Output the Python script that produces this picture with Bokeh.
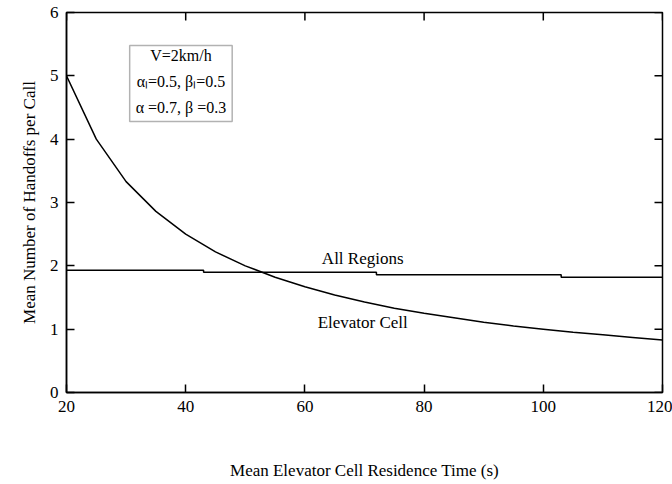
from bokeh.plotting import figure
from bokeh.models import Range1d, FixedTicker, BoxAnnotation, Label
from bokeh.core.properties import value
from bokeh.embed import file_html
from bokeh.resources import INLINE

# Data
residence_time = [20, 25, 30, 35, 40, 45, 50, 55, 60, 65, 70, 75, 80, 85, 90, 95, 100, 105, 110, 115, 120]
elevator_cell = [5.0, 4.0, 3.33, 2.86, 2.5, 2.22, 2.0, 1.82, 1.67, 1.54, 1.43, 1.33, 1.25, 1.18, 1.11, 1.05, 1.0, 0.95, 0.91, 0.87, 0.83]
all_regions_x = [20, 43, 43, 72, 72, 103, 103, 120]
all_regions = [1.93, 1.93, 1.90, 1.90, 1.86, 1.86, 1.82, 1.82]
x_ticks = [20, 40, 60, 80, 100, 120]
y_ticks = [0, 1, 2, 3, 4, 5, 6]

FONT = "Liberation Serif"
X0, X1, Y0, Y1 = 20, 120, 0, 6

p = figure(width=672, height=484, output_backend="svg", toolbar_location=None,
           x_range=Range1d(X0, X1), y_range=Range1d(Y0, Y1),
           min_border_left=66, min_border_right=10, min_border_top=12, min_border_bottom=92)
p.xgrid.visible = False
p.ygrid.visible = False
p.outline_line_color = "black"
p.outline_line_width = 1.5

p.line(residence_time, elevator_cell, line_color="black", line_width=1.5)
p.line(all_regions_x, all_regions, line_color="black", line_width=1.5)

def style_axis(ax, ticks):
    ax.ticker = FixedTicker(ticks=ticks)
    ax.axis_line_color = "black"
    ax.axis_line_width = 1.5
    ax.major_tick_in = 8
    ax.major_tick_out = 0
    ax.major_tick_line_width = 1.5
    ax.minor_tick_line_color = None
    ax.major_label_text_font = FONT
    ax.major_label_text_font_size = "17px"
    ax.major_label_text_color = "black"
    ax.axis_label_text_font = FONT
    ax.axis_label_text_font_style = "normal"
    ax.axis_label_text_font_size = "17px"
    ax.axis_label_text_color = "black"

style_axis(p.xaxis[0], x_ticks)
style_axis(p.yaxis[0], y_ticks)
p.xaxis[0].axis_label = "Mean Elevator Cell Residence Time (s)"
p.xaxis[0].major_label_standoff = 8
p.xaxis[0].axis_label_standoff = 46
p.yaxis[0].axis_label = "Mean Number of Handoffs per Call"
p.yaxis[0].major_label_standoff = 8
p.yaxis[0].axis_label_standoff = 8

# Mirrored inward ticks on top and right edges (8 px long)
tick_dx = 8 * (X1 - X0) / 596.0
tick_dy = 8 * (Y1 - Y0) / 380.0
p.segment(x0=x_ticks, y0=[Y1] * len(x_ticks), x1=x_ticks, y1=[Y1 - tick_dy] * len(x_ticks),
          line_color="black", line_width=1.5)
p.segment(x0=[X1] * len(y_ticks), y0=y_ticks, x1=[X1 - tick_dx] * len(y_ticks), y1=y_ticks,
          line_color="black", line_width=1.5)

# Legend-like text box
p.add_layout(BoxAnnotation(left=30.6, right=47.8, bottom=4.28, top=5.48,
                           fill_color=None, line_color="black", line_width=1.5))
for txt, yv in [("V=2km/h", 5.32), ("α\u2097=0.5, β\u2097=0.5", 4.91), ("α =0.7, β =0.3", 4.5)]:
    p.add_layout(Label(x=39.2, y=yv, text=txt, text_align="center", text_baseline="middle",
                       text_font=FONT, text_font_size="16px", text_color="black"))

p.text(x=[69.7, 69.7], y=[2.12, 1.1], text=["All Regions", "Elevator Cell"],
       text_font=value(FONT), text_font_size="17px", text_align="center",
       text_baseline="middle", text_color="black")

open("out.html", "w").write(file_html(p, INLINE))
